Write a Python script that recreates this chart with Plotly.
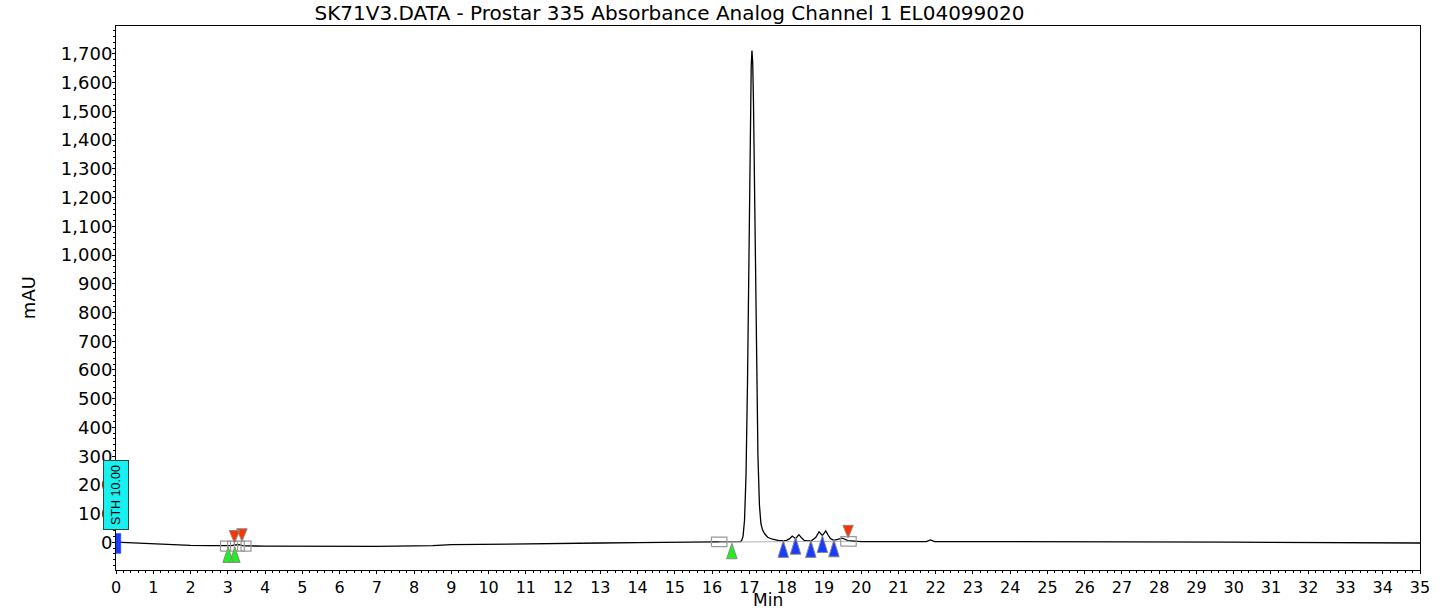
import plotly.graph_objects as go

# ---------------- data ----------------
time_min = [0, 0.5, 1, 1.5, 2, 2.5, 3, 3.1, 3.2, 3.3, 3.4, 3.5, 4, 5, 6, 7, 7.5, 8, 8.5, 9, 9.5,
            10, 11, 12, 13, 14, 15, 16, 16.5, 16.7, 16.75, 16.79, 16.83, 16.87, 16.91, 16.95,
            16.99, 17.03, 17.05, 17.07, 17.09, 17.11, 17.15, 17.19, 17.23, 17.27, 17.31, 17.35,
            17.41, 17.49, 17.62, 17.8, 18.0, 18.08, 18.15, 18.24, 18.33, 18.40, 18.47, 18.56,
            18.65, 18.78, 18.87, 18.96, 19.05, 19.12, 19.18, 19.27, 19.38, 19.49, 19.57, 19.64,
            20, 20.5, 20.83, 21, 21.5, 21.75, 21.86, 21.97, 22.2, 23, 24, 25, 26, 27, 28, 29, 30,
            31, 32, 33, 34, 35]
absorbance = [1, -2, -5, -8, -10, -11, -12, -11, -9, -8, -11, -12, -13, -14, -14, -14, -13, -13, -11, -8, -7,
              -6, -5, -4, -2, -1, 0, 1, 2, 2, 3, 6, 21, 77, 234, 558,
              1040, 1513, 1660, 1712, 1666, 1534, 1102, 636, 300, 130, 65, 45,
              30, 18, 11, 6, 7, 13, 22, 13, 27, 16, 7, 5,
              5, 17, 37, 24, 40, 24, 13, 7, 10, 15, 11, 6,
              3, 3, 4, 3, 3, 3, 9, 3, 3, 3, 3, 2, 2, 1, 1, 1, 1,
              0, 0, -1, -1, -2]

green_times = [3.01, 3.19, 16.53]
green_tips = [-16, -16, -3]
red_times = [3.18, 3.38, 19.65]
red_tips = [-2, 4, 16]
blue_times = [17.91, 18.24, 18.65, 18.96, 19.27]
blue_tips = [7, 18, 7, 24, 9]
small_box_times = [2.94, 3.13, 3.31, 3.49]
small_box_vals = [-13, -13, -13, -13]
wide_box_times = [16.19, 19.66]
wide_box_vals = [2, 3.5]
baseline_times = [16.19, 19.66]
baseline_vals = [1, 4]
inject_times = [0.0]
inject_low, inject_high = -38, 31
sth_label = "STH 10.00"
sth_center = 165

title_text = "SK71V3.DATA - Prostar 335 Absorbance Analog Channel 1 EL04099020"
y_ticks = list(range(0, 1800, 100))
x_ticks = list(range(0, 36))

# ---------------- geometry helpers ----------------
FIG_W, FIG_H = 1442, 611
X_RANGE = [0, 35]
Y_RANGE = [-96, 1797]
M_L, M_R, M_T, M_B = 116, 20, 26, 41
PLOT_W = FIG_W - M_L - M_R
PLOT_H = FIG_H - M_T - M_B
PX_X = PLOT_W / (X_RANGE[1] - X_RANGE[0])
PX_Y = PLOT_H / (Y_RANGE[1] - Y_RANGE[0])


def tri_poly(times, tips, w_px, h_px, up=True):
    xs, ys = [], []
    hw = w_px / 2 / PX_X
    h = h_px / PX_Y
    for t, tip in zip(times, tips):
        base = tip - h if up else tip + h
        xs += [t - hw, t + hw, t, t - hw, None]
        ys += [base, base, tip, base, None]
    return xs, ys


def box_poly(times, vals, w_px, h_px):
    xs, ys = [], []
    hw = w_px / 2 / PX_X
    hh = h_px / 2 / PX_Y
    for t, v in zip(times, vals):
        xs += [t - hw, t + hw, t + hw, t - hw, t - hw, None]
        ys += [v - hh, v - hh, v + hh, v + hh, v - hh, None]
    return xs, ys


fig = go.Figure()

fig.add_trace(go.Scatter(x=time_min, y=absorbance, mode="lines",
                         line=dict(color="black", width=1.3), hoverinfo="skip"))

ix, iy = [], []
for t in inject_times:
    x0 = t - 1.0 / PX_X
    x1 = t + 4.8 / PX_X
    ix += [x0, x1, x1, x0, x0, None]
    iy += [inject_low, inject_low, inject_high, inject_high, inject_low, None]
fig.add_trace(go.Scatter(x=ix, y=iy, mode="lines", fill="toself", fillcolor="#1a3cff",
                         line=dict(color="#1a3cff", width=0.5), hoverinfo="skip"))

fig.add_trace(go.Scatter(x=baseline_times, y=baseline_vals, mode="lines",
                         line=dict(color="#b0b0b0", width=1), hoverinfo="skip"))

sx, sy = box_poly(small_box_times, small_box_vals, 10, 10)
fig.add_trace(go.Scatter(x=sx, y=sy, mode="lines", line=dict(color="#999999", width=1.2),
                         hoverinfo="skip"))
wx, wy = box_poly(wide_box_times, wide_box_vals, 15.5, 9.5)
fig.add_trace(go.Scatter(x=wx, y=wy, mode="lines", line=dict(color="#999999", width=1.2),
                         hoverinfo="skip"))

for times, tips, col, h, up in [
    (green_times, green_tips, "#22ee22", 15.5, True),
    (red_times, red_tips, "#ff3300", 12.5, False),
    (blue_times, blue_tips, "#1a3cff", 17, True),
]:
    tx, ty = tri_poly(times, tips, 10.5, h, up)
    fig.add_trace(go.Scatter(x=tx, y=ty, mode="lines", fill="toself", fillcolor=col,
                             line=dict(color="#8a8a8a", width=1), hoverinfo="skip"))

font_main = "DejaVu Sans, Liberation Sans, Arial"

fig.update_layout(
    width=FIG_W, height=FIG_H,
    margin=dict(l=M_L, r=M_R, t=M_T, b=M_B, pad=0),
    paper_bgcolor="white", plot_bgcolor="white",
    showlegend=False,
    font=dict(family=font_main, color="black"),
    title=dict(text=title_text, x=669.5 / FIG_W, xanchor="center", xref="container",
               y=1 - 13 / FIG_H, yanchor="middle", yref="container",
               font=dict(size=20, family=font_main, color="black")),
    xaxis=dict(range=X_RANGE, tickvals=x_ticks, ticks="outside", ticklen=3, tickwidth=1,
               tickcolor="black", showline=True, linecolor="black", linewidth=1, mirror=True,
               showgrid=False, zeroline=False, tickfont=dict(size=16, family=font_main),
               minor=dict(dtick=0.2, ticks="outside", ticklen=2, tickcolor="black", showgrid=False)),
    yaxis=dict(range=Y_RANGE, tickvals=y_ticks, tickformat=",d", ticks="outside", ticklen=3,
               tickwidth=1, tickcolor="black", showline=True, linecolor="black", linewidth=1,
               mirror=True, showgrid=False, zeroline=False,
               tickfont=dict(size=18, family=font_main), ticklabelstandoff=-4,
               minor=dict(dtick=20, ticks="outside", ticklen=2, tickcolor="black", showgrid=False)),
    annotations=[
        dict(text="mAU", xref="paper", yref="paper", x=(28 - M_L) / PLOT_W, y=0.5,
             textangle=-90, showarrow=False, xanchor="center", yanchor="middle",
             font=dict(size=18, family=font_main)),
        dict(text="Min", xref="paper", yref="paper", x=0.5, y=(PLOT_H + M_T - 600) / PLOT_H,
             showarrow=False, xanchor="center", yanchor="middle",
             font=dict(size=17, family=font_main)),
        dict(text=sth_label, xref="x", yref="y", x=inject_times[0], y=sth_center,
             textangle=-90, showarrow=False, xanchor="center", yanchor="middle",
             bgcolor="#19f0f0", bordercolor="#2a4a4a", borderwidth=1, borderpad=1,
             width=66, height=22,
             font=dict(size=12.5, family="Liberation Sans Narrow, Liberation Sans, Arial", color="black")),
    ],
)

fig.write_html("out.html", config={"displayModeBar": False},
               post_script="document.body.style.margin='0px';document.body.style.overflow='hidden';")
